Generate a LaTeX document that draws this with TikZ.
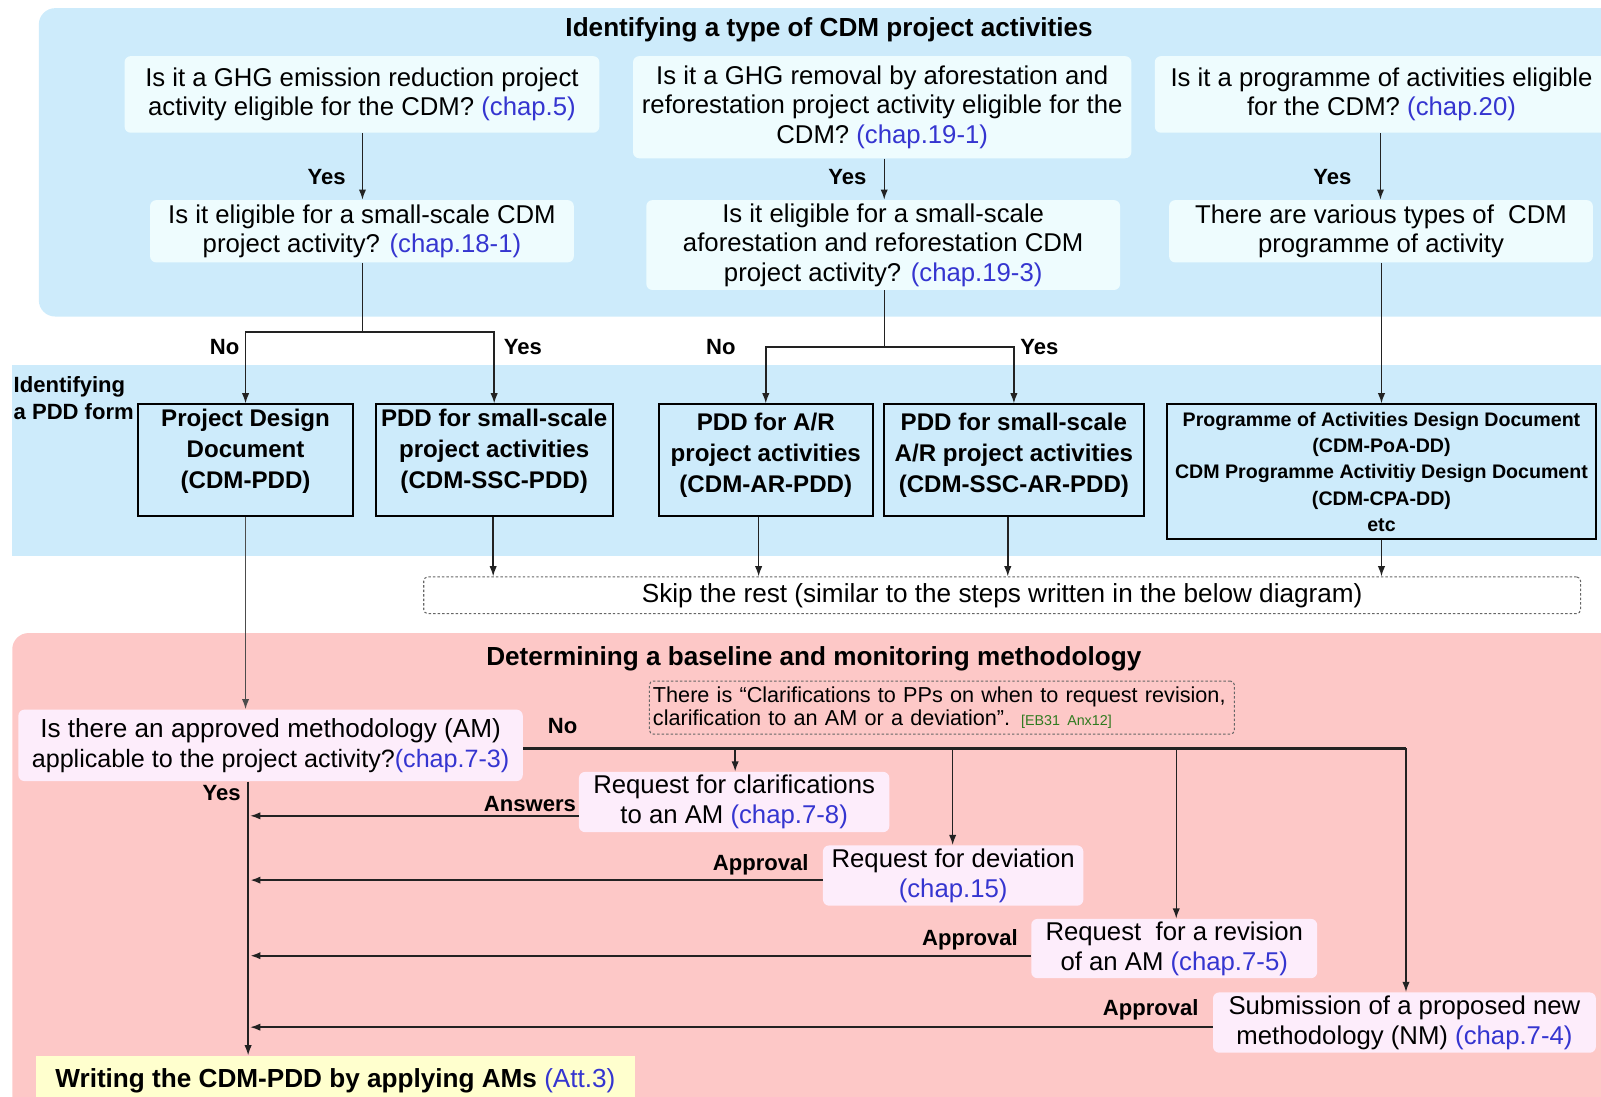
\documentclass[tikz,border=0pt]{standalone}
\usepackage{fontspec}
\setmainfont{Liberation Sans}
\usetikzlibrary{arrows.meta,calc}
\definecolor{panelblue}{HTML}{CDEBFB}
\definecolor{qfill}{HTML}{EEFCFE}
\definecolor{panelpink}{HTML}{FDC8C7}
\definecolor{reqfill}{HTML}{FDEDFB}
\definecolor{wrfill}{HTML}{FFFFCE}
\definecolor{chapblue}{HTML}{3535D0}
\definecolor{refgreen}{HTML}{2F7A1F}
\definecolor{linegray}{HTML}{222222}
\newcommand\chp[1]{{\color{chapblue}#1}}
\begin{document}
\begin{tikzpicture}[x=0.5pt,y=-0.5pt,
  qbox/.style={fill=qfill, rounded corners=3pt, align=center, inner sep=0pt, font=\fontsize{12.6}{14.5}\selectfont},
  pddbox/.style={draw=black, line width=0.9pt, fill=panelblue, inner sep=0pt},
  pddtext/.style={align=center, inner sep=0pt, font=\fontsize{11.8}{15}\selectfont\bfseries},
  reqbox/.style={fill=reqfill, rounded corners=3pt, align=center, inner sep=0pt, font=\fontsize{12.6}{14.5}\selectfont},
  lbl/.style={font=\fontsize{10.8}{12}\selectfont\bfseries, inner sep=0pt},
  ttl/.style={font=\fontsize{12.8}{14}\selectfont\bfseries, inner sep=0pt},
  arr/.style={draw=linegray, line width=0.7pt, -{Latex[length=5pt,width=3.6pt]}},
  ln/.style={draw=linegray, line width=0.7pt},
  thk/.style={line width=1.1pt},
  dashbox/.style={draw=gray!80!black, dashed, dash pattern=on 1.2pt off 1pt, line width=0.5pt, rounded corners=2pt, inner sep=0pt}
]
\useasboundingbox (0,0) rectangle (1568,1074);
% panels
\fill[panelblue, rounded corners=8pt] (38,8) rectangle (1600,310);
\fill[panelblue] (12,357) rectangle (1600,545);
\fill[panelpink, rounded corners=8pt] (12,620) rectangle (1600,1110);

% titles
\node[ttl] (t1) at (812,29) {Identifying a type of CDM project activities};
\node[ttl] (t2) at (797,645) {Determining a baseline and monitoring methodology};
\node[lbl, align=left, anchor=north west, font=\fontsize{10.8}{13.5}\selectfont\bfseries] (t3) at (13,368) {Identifying\\a PDD form};

% top question boxes
\node[qbox, minimum width=232.5pt, minimum height=37.5pt] (a1) at (354.5,92.5)
  {Is it a GHG emission reduction project\\activity eligible for the CDM? \chp{(chap.5)}};
\node[qbox, minimum width=244pt, minimum height=50pt] (b1) at (864,105)
  {Is it a GHG removal by aforestation and\\reforestation project activity eligible for the\\CDM? \chp{(chap.19-1)}};
\node[qbox, minimum width=222pt, minimum height=37.5pt] (c1) at (1353,92.5)
  {Is it a programme of activities eligible\\for the CDM? \chp{(chap.20)}};

\node[qbox, minimum width=207.5pt, minimum height=30.5pt] (a2) at (354.5,226.5)
  {Is it eligible for a small-scale CDM\\project activity? \chp{(chap.18-1)}};
\node[qbox, minimum width=232pt, minimum height=44pt] (b2) at (865,240)
  {Is it eligible for a small-scale\\aforestation and reforestation CDM\\project activity? \chp{(chap.19-3)}};
\node[qbox, minimum width=207.5pt, minimum height=30.5pt] (c2) at (1352.5,226.5)
  {There are various types of\ \ CDM\\programme of activity};

% PDD boxes
\node[pddbox, minimum width=105.5pt, minimum height=54.5pt] (p1) at (240.5,450.5) {};
\node[pddtext] (p1t) at (240.5,442) {Project Design\\Document\\(CDM-PDD)};
\node[pddbox, minimum width=116pt, minimum height=54.5pt] (p2) at (484,450.5) {};
\node[pddtext] (p2t) at (484,442) {PDD for small-scale\\project activities\\(CDM-SSC-PDD)};
\node[pddbox, minimum width=105pt, minimum height=54.5pt] (p3) at (750,450.5) {};
\node[pddtext] (p3t) at (750,446) {PDD for A/R\\project activities\\(CDM-AR-PDD)};
\node[pddbox, minimum width=127pt, minimum height=54.5pt] (p4) at (993,450.5) {};
\node[pddtext] (p4t) at (993,446) {PDD for small-scale\\A/R project activities\\(CDM-SSC-AR-PDD)};
\node[pddbox, minimum width=210pt, minimum height=66pt] (p5) at (1353,462) {};
\node[pddtext, font=\fontsize{9.6}{12.9}\selectfont\bfseries] (p5t) at (1353,462)
  {Programme of Activities Design Document\\(CDM-PoA-DD)\\CDM Programme Activitiy Design Document\\(CDM-CPA-DD)\\etc};

% skip box
\node[dashbox, minimum width=566.5pt, minimum height=18pt, font=\fontsize{12.8}{14}\selectfont] (skip) at (981.5,583)
  {Skip the rest (similar to the steps written in the below diagram)};

% top connectors
\draw[arr] (a1.south -| 355,0) -- (a2.north -| 355,0);
\draw[arr] (b1.south -| 866,0) -- (b2.north -| 866,0);
\draw[arr] (c1.south -| 1352,0) -- (c2.north -| 1352,0);
\node[lbl] (y1) at (320,173) {Yes};
\node[lbl] (y2) at (830,173) {Yes};
\node[lbl] (y3) at (1305,173) {Yes};

\coordinate (sa) at (355,325);
\coordinate (sb) at (866,340);
\draw[ln] (a2.south -| sa) -- (sa);
\draw[arr] (sa) -| (p1.north);
\draw[arr] (sa) -| (p2.north);
\draw[ln] (b2.south -| sb) -- (sb);
\draw[arr] (sb) -| (p3.north);
\draw[arr] (sb) -| (p4.north);
\draw[arr] (c2.south -| p5.north) -- (p5.north);
\node[lbl] (n1) at (220,340) {No};
\node[lbl] (y4) at (512,340) {Yes};
\node[lbl] (n2) at (706,340) {No};
\node[lbl] (y5) at (1018,340) {Yes};

% to skip box
\draw[arr] (p2.south -| 483,0) -- (skip.north -| 483,0);
\draw[arr] (p3.south -| 743,0) -- (skip.north -| 743,0);
\draw[arr] (p4.south -| 987,0) -- (skip.north -| 987,0);
\draw[arr] (p5.south) -- (skip.north -| p5.south);

% methodology section
\node[dashbox, minimum width=286.5pt, minimum height=26pt, text width=283pt, inner xsep=1.75pt, align=left, font=\fontsize{10.6}{11.5}\selectfont] (note) at (922.5,693)
  {There is “Clarifications to PPs on when to request revision,\\clarification to an AM or a deviation”. {\color{refgreen}\fontsize{7}{8}\selectfont[EB31 Anx12]}};

\node[reqbox, minimum width=247pt, minimum height=35pt] (am) at (265,730)
  {{\fontsize{12.8}{14.5}\selectfont Is there an approved methodology (AM)}\\{\fontsize{12.3}{13.5}\selectfont applicable to the project activity?\chp{(chap.7-3)}}};

\node[reqbox, minimum width=152pt, minimum height=29.5pt] (clar) at (719,785.5)
  {Request for clarifications\\to an AM \chp{(chap.7-8)}};
\node[reqbox, minimum width=127.5pt, minimum height=29.5pt] (dev) at (933.5,857.5)
  {Request for deviation\\\chp{(chap.15)}};
\node[reqbox, minimum width=140pt, minimum height=29pt] (rev) at (1150,929)
  {Request\ \ for a revision\\of an AM \chp{(chap.7-5)}};
\node[reqbox, minimum width=187.5pt, minimum height=29.5pt] (nm) at (1375.5,1001.5)
  {Submission of a proposed new\\methodology (NM) \chp{(chap.7-4)}};

\node[fill=wrfill, minimum width=293.5pt, minimum height=25pt, inner sep=0pt, font=\fontsize{12.8}{14}\selectfont] (wr) at (328.5,1059)
  {\textbf{Writing the CDM-PDD by applying AMs} \chp{(Att.3)}};

% P1 down to AM
\draw[arr, draw=black!70] (p1.south) -- (am.north -| p1.south);

% No branch
\coordinate (nob) at (1377,733);
\draw[ln, thk] (am.east |- nob) -- (nob);
\draw[arr] (720,733) -- (clar.north -| 720,0);
\draw[arr] (933,733) -- (dev.north -| 933,0);
\draw[arr] (1152,733) -- (rev.north -| 1152,0);
\draw[arr] (nob) -- (nm.north -| nob);
\node[lbl] (n3) at (551,711) {No};

% Yes trunk
\draw[arr] (am.south -| 243,0) -- (wr.north -| 243,0);
\node[lbl] (y6) at (217,777) {Yes};

% returns
\draw[arr] (clar.west |- 0,799) -- (245,799);
\draw[arr, thk] (dev.west |- 0,862) -- (245,862);
\draw[arr, thk] (rev.west |- 0,936) -- (245,936);
\draw[arr] (nm.west |- 0,1006) -- (245,1006);
\node[lbl] (l1) at (519,787) {Answers};
\node[lbl] (l2) at (745,847) {Approval};
\node[lbl] (l3) at (950,920) {Approval};
\node[lbl] (l4) at (1127,989) {Approval};
\end{tikzpicture}
\end{document}
